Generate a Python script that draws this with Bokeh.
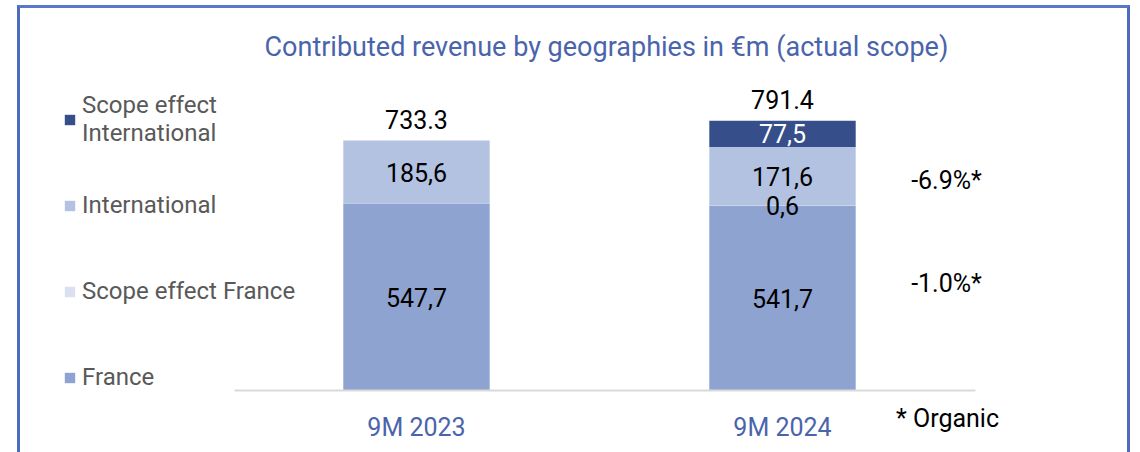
from bokeh.plotting import figure
from bokeh.models import ColumnDataSource, Range1d, FixedTicker, Legend, LegendItem
from bokeh.core.properties import value
from bokeh.embed import file_html
from bokeh.resources import INLINE

# ---------------- data ----------------
periods = ["9M 2023", "9M 2024"]
france = [547.7, 541.7]
scope_france = [0.0, 0.6]
international = [185.6, 171.6]
scope_international = [0.0, 77.5]
totals = [733.3, 791.4]
organic_france = "-1.0%*"
organic_international = "-6.9%*"
footnote = "* Organic"
title_text = "Contributed revenue by geographies in \u20acm (actual scope)"

series_keys = ["france", "scope_france", "international", "scope_international"]
series_names = ["France", "Scope effect France", "International", "Scope effect\nInternational"]
series_colors = ["#8FA3D1", "#DAE0F0", "#B4C2E1", "#364F8B"]
label_colors = ["#000000", "#000000", "#000000", "#FFFFFF"]

FONT = "Roboto"
W, H = 1113, 447          # element size (border included)
PX_PER_UNIT = 0.341       # vertical px per EUR m
BASE_CY = 382             # baseline position inside canvas
TOP_CY = 58               # frame top inside canvas
X0_CX, X_STEP = 396, 366  # first category centre and spacing in px

xpos = list(range(len(periods)))
src = ColumnDataSource(dict(x=xpos, france=france, scope_france=scope_france,
                            international=international,
                            scope_international=scope_international))

p = figure(width=W, height=H, output_backend="svg", toolbar_location=None,
           x_range=Range1d(-X0_CX / X_STEP, (W - X0_CX) / X_STEP),
           y_range=Range1d(-(H - BASE_CY) / PX_PER_UNIT, (BASE_CY - TOP_CY) / PX_PER_UNIT),
           y_axis_location=None, min_border_left=0, min_border_right=0,
           min_border_top=TOP_CY, min_border_bottom=0)
p.styles = {"border-left": "3px solid #4E6BC0", "border-right": "3px solid #4E6BC0",
            "border-top": "3px solid #5A78C8", "margin-left": "17px", "margin-top": "5px"}
p.outline_line_color = None
p.grid.visible = False
p.background_fill_color = "white"
p.border_fill_color = "white"

# title
p.title.text = title_text
p.title.text_font = FONT
p.title.text_font_size = "27px"
p.title.text_font_style = "normal"
p.title.text_color = "#4A64AC"
p.title.align = "left"
p.title.offset = 244
p.title.standoff = 8

renderers = p.vbar_stack(series_keys, x="x", width=0.4, source=src,
                         color=series_colors, line_color=None)

# segment value labels
lx, ly, lt, lc = [], [], [], []
for i in xpos:
    base = 0.0
    for key, col in zip(series_keys, label_colors):
        v = src.data[key][i]
        if v > 0:
            lx.append(i)
            ly.append(base + v / 2)
            lt.append(f"{v:.1f}".replace(".", ","))
            lc.append(col)
        base += v
lab = ColumnDataSource(dict(x=lx, y=ly, t=lt, c=lc))
p.text(x="x", y="y", text="t", source=lab, text_color="c", text_align="center",
       text_baseline="middle", text_font=value(FONT), text_font_size="25px")

# totals
tot = ColumnDataSource(dict(x=xpos, y=totals, t=[f"{v:.1f}" for v in totals]))
p.text(x="x", y="y", text="t", source=tot, text_color="black", text_align="center",
       text_baseline="middle", y_offset=-21, text_font=value(FONT), text_font_size="25px")

# organic growth annotations next to 2024 bar
org = ColumnDataSource(dict(
    x=[1, 1],
    y=[france[1] / 2, france[1] + scope_france[1] + international[1] / 2],
    t=[organic_france, organic_international],
    yo=[-15, 4]))
p.text(x="x", y="y", text="t", source=org, text_color="black", text_align="center",
       text_baseline="middle", x_offset=164, y_offset="yo",
       text_font=value(FONT), text_font_size="25px")

# footnote under the axis, right of the 2024 bar
p.text(x=[1], y=[0], text=[footnote], text_color="black", text_align="center",
       text_baseline="middle", x_offset=165, y_offset=28,
       text_font=value(FONT), text_font_size="25px")

# x axis drawn at y = 0 inside the frame
ax = p.xaxis[0]
ax.fixed_location = 0
ax.ticker = FixedTicker(ticks=xpos)
ax.major_label_overrides = {i: n for i, n in zip(xpos, periods)}
ax.bounds = (-0.497, 1.527)
ax.axis_line_color = "#D9D9D9"
ax.axis_line_width = 2
ax.major_tick_line_color = None
ax.minor_tick_line_color = None
ax.major_tick_out = 0
ax.major_label_standoff = 22
ax.major_label_text_font = FONT
ax.major_label_text_font_size = "25px"
ax.major_label_text_color = "#4A64AC"

# legend
items = [LegendItem(label=n, renderers=[r]) for n, r in zip(series_names, renderers)]
items = items[::-1]
legend = Legend(items=items, location=(43, H - 398), orientation="vertical",
                label_text_font=FONT, label_text_font_size="24px",
                label_text_color="#595959", glyph_width=13, glyph_height=13,
                label_height=58, spacing=28, padding=0, margin=0,
                label_standoff=6, border_line_color=None, background_fill_alpha=0)
p.add_layout(legend, "center")

open("out.html", "w").write(file_html(p, INLINE))
